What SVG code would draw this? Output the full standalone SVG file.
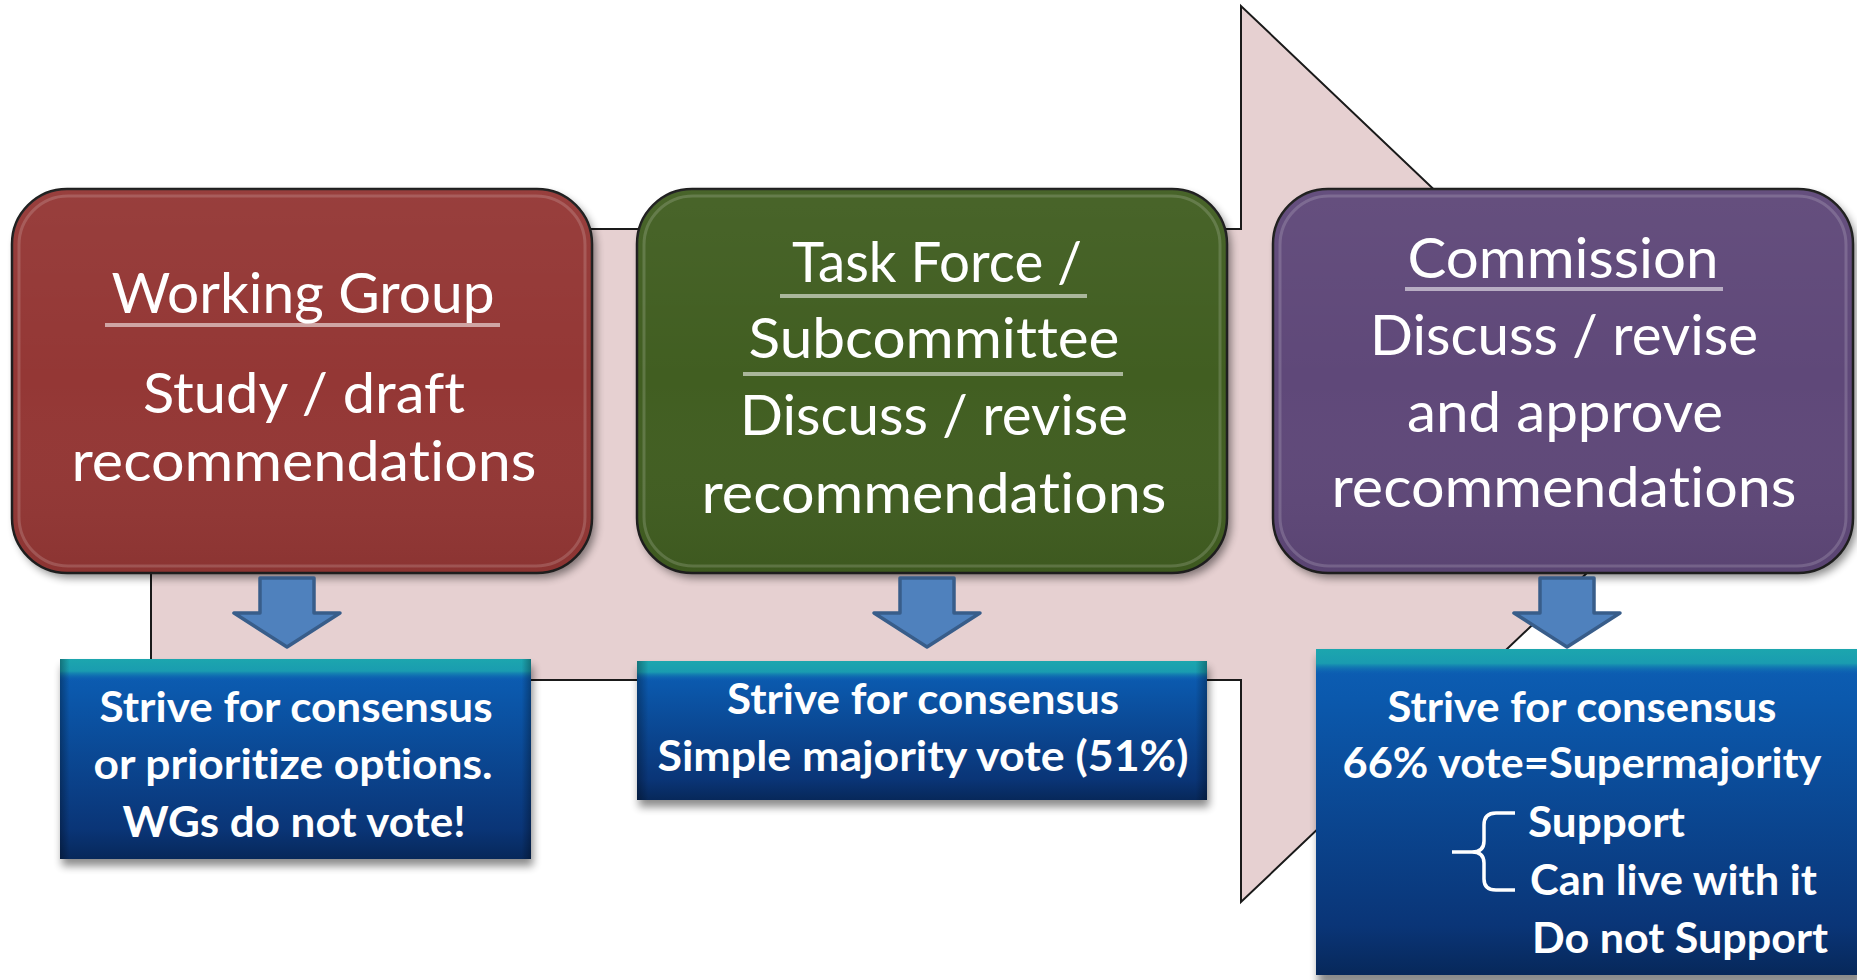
<svg xmlns="http://www.w3.org/2000/svg" width="1857" height="980" viewBox="0 0 1857 980">
<style>
text{font-variant-ligatures:none;font-feature-settings:"liga" 0,"clig" 0}
.main{font-family:Lato,"Noto Sans","Liberation Sans",sans-serif;font-size:56px;fill:#ffffff;text-anchor:middle}
.note{font-family:Lato,"Noto Sans","Liberation Sans",sans-serif;font-weight:700;font-size:42px;fill:#ffffff;text-anchor:middle}
.noteL{font-family:Lato,"Noto Sans","Liberation Sans",sans-serif;font-weight:700;font-size:42px;fill:#ffffff;text-anchor:start}
.ul{stroke:#ffffff;stroke-opacity:0.55;stroke-width:4}
.box{stroke:#1e1e1e;stroke-width:2.5}
.gloss{fill:none;stroke:#ffffff;stroke-opacity:0.16;stroke-width:3}
.darrow{fill:#4f81bd;stroke:#385d8a;stroke-width:3.5;stroke-linejoin:round}
.shadow{fill:#000000;opacity:0.45}
</style>
<defs>
<linearGradient id="blueGrad" x1="0" y1="0" x2="0" y2="1">
<stop offset="0" stop-color="#0d5fb5"/>
<stop offset="0.15" stop-color="#0b59ad"/>
<stop offset="0.85" stop-color="#0a3577"/>
<stop offset="1" stop-color="#07285a"/>
</linearGradient>
<linearGradient id="tealGrad" x1="0" y1="0" x2="0" y2="1">
<stop offset="0" stop-color="#1ca6ae"/>
<stop offset="0.55" stop-color="#1a9cb0"/>
<stop offset="1" stop-color="#0d5fb5" stop-opacity="0"/>
</linearGradient>
<linearGradient id="sideGrad" x1="0" y1="0" x2="1" y2="0">
<stop offset="0" stop-color="#000" stop-opacity="0.3"/>
<stop offset="0.02" stop-color="#000" stop-opacity="0"/>
<stop offset="0.98" stop-color="#000" stop-opacity="0"/>
<stop offset="1" stop-color="#000" stop-opacity="0.3"/>
</linearGradient>
<linearGradient id="boxShade" x1="0" y1="0" x2="0" y2="1">
<stop offset="0" stop-color="#fff" stop-opacity="0.04"/>
<stop offset="0.5" stop-color="#fff" stop-opacity="0"/>
<stop offset="1" stop-color="#000" stop-opacity="0.06"/>
</linearGradient>
<filter id="blur" x="-10%" y="-10%" width="120%" height="130%">
<feGaussianBlur stdDeviation="4"/>
</filter>
</defs>

<g id="process-arrow">
<polygon points="151,229 1241,229 1241,6 1712,454 1241,902 1241,680 151,680" fill="#e6d0d1" stroke="#1a1a1a" stroke-width="2"/>
</g>

<g id="working-group">
<rect x="16" y="194" width="580" height="384" rx="55" class="shadow" filter="url(#blur)" opacity="0.3"/>
<rect x="12" y="189" width="580" height="384" rx="55" fill="#943735" class="box"/>
<rect x="12" y="189" width="580" height="384" rx="55" fill="url(#boxShade)"/>
<rect x="19" y="196" width="566" height="370" rx="49" class="gloss"/>
<text class="main" x="303" y="313" textLength="383" lengthAdjust="spacingAndGlyphs">Working Group</text>
<line class="ul" x1="105" y1="325" x2="500" y2="325"/>
<text class="main" x="304" y="413" textLength="322" lengthAdjust="spacingAndGlyphs">Study / draft</text>
<text class="main" x="304" y="481" textLength="465" lengthAdjust="spacingAndGlyphs">recommendations</text>
</g>

<g id="task-force">
<rect x="641" y="194" width="590" height="384" rx="55" class="shadow" filter="url(#blur)" opacity="0.3"/>
<rect x="637" y="189" width="590" height="384" rx="55" fill="#415e21" class="box"/>
<rect x="637" y="189" width="590" height="384" rx="55" fill="url(#boxShade)"/>
<rect x="644" y="196" width="576" height="370" rx="49" class="gloss"/>
<text class="main" x="937" y="282" textLength="290" lengthAdjust="spacingAndGlyphs">Task Force /</text>
<line class="ul" x1="780" y1="296" x2="1087" y2="296"/>
<text class="main" x="934" y="358" textLength="371" lengthAdjust="spacingAndGlyphs">Subcommittee</text>
<line class="ul" x1="743" y1="374" x2="1123" y2="374"/>
<text class="main" x="934" y="435" textLength="388" lengthAdjust="spacingAndGlyphs">Discuss / revise</text>
<text class="main" x="934" y="513" textLength="465" lengthAdjust="spacingAndGlyphs">recommendations</text>
</g>

<g id="commission">
<rect x="1277" y="194" width="580" height="384" rx="55" class="shadow" filter="url(#blur)" opacity="0.3"/>
<rect x="1273" y="189" width="580" height="384" rx="55" fill="#5f4879" class="box"/>
<rect x="1273" y="189" width="580" height="384" rx="55" fill="url(#boxShade)"/>
<rect x="1280" y="196" width="566" height="370" rx="49" class="gloss"/>
<text class="main" x="1563" y="278" textLength="311" lengthAdjust="spacingAndGlyphs">Commission</text>
<line class="ul" x1="1405" y1="289" x2="1723" y2="289"/>
<text class="main" x="1564" y="355" textLength="388" lengthAdjust="spacingAndGlyphs">Discuss / revise</text>
<text class="main" x="1565" y="432" textLength="316" lengthAdjust="spacingAndGlyphs">and approve</text>
<text class="main" x="1564" y="507" textLength="465" lengthAdjust="spacingAndGlyphs">recommendations</text>
</g>

<g id="connectors">
<path class="darrow" d="M260,578 L314,578 L314,613 L340,613 L287,647 L234,613 L260,613 Z"/>
<path class="darrow" d="M900,578 L954,578 L954,613 L980,613 L927,647 L874,613 L900,613 Z"/>
<path class="darrow" d="M1540,578 L1594,578 L1594,613 L1620,613 L1567,647 L1514,613 L1540,613 Z"/>
</g>

<g id="note-working-group">
<rect x="62" y="666" width="471" height="200" class="shadow" filter="url(#blur)"/>
<rect x="60" y="659" width="471" height="200" fill="url(#blueGrad)"/>
<rect x="60" y="659" width="471" height="22" fill="url(#tealGrad)"/>
<rect x="60" y="659" width="471" height="200" fill="url(#sideGrad)"/>
<text class="note" x="296" y="722" textLength="393" lengthAdjust="spacingAndGlyphs">Strive for consensus</text>
<text class="note" x="293" y="779" textLength="399" lengthAdjust="spacingAndGlyphs">or prioritize options.</text>
<text class="note" x="294" y="837" textLength="343" lengthAdjust="spacingAndGlyphs">WGs do not vote!</text>
</g>

<g id="note-task-force">
<rect x="639" y="668" width="570" height="139" class="shadow" filter="url(#blur)"/>
<rect x="637" y="661" width="570" height="139" fill="url(#blueGrad)"/>
<rect x="637" y="661" width="570" height="20" fill="url(#tealGrad)"/>
<rect x="637" y="661" width="570" height="139" fill="url(#sideGrad)"/>
<text class="note" x="923" y="714" textLength="392" lengthAdjust="spacingAndGlyphs">Strive for consensus</text>
<text class="note" x="923" y="771" textLength="531" lengthAdjust="spacingAndGlyphs">Simple majority vote (51%)</text>
</g>

<g id="note-commission">
<rect x="1318" y="656" width="545" height="330" class="shadow" filter="url(#blur)"/>
<rect x="1316" y="649" width="545" height="326" fill="url(#blueGrad)"/>
<rect x="1316" y="649" width="545" height="26" fill="url(#tealGrad)"/>
<text class="note" x="1582" y="722" textLength="389" lengthAdjust="spacingAndGlyphs">Strive for consensus</text>
<text class="note" x="1582" y="778" textLength="479" lengthAdjust="spacingAndGlyphs">66% vote=Supermajority</text>
<path d="M1515,813 L1496,813 Q1484,813 1484,825 L1484,841 Q1484,852 1472,852 L1452,852 M1472,852 Q1484,852 1484,863 L1484,879 Q1484,890 1496,890 L1515,890" fill="none" stroke="#ffffff" stroke-width="3.5"/>
<text class="noteL" x="1528" y="837" textLength="157" lengthAdjust="spacingAndGlyphs">Support</text>
<text class="noteL" x="1530" y="895" textLength="287" lengthAdjust="spacingAndGlyphs">Can live with it</text>
<text class="noteL" x="1532" y="953" textLength="296" lengthAdjust="spacingAndGlyphs">Do not Support</text>
</g>
</svg>
